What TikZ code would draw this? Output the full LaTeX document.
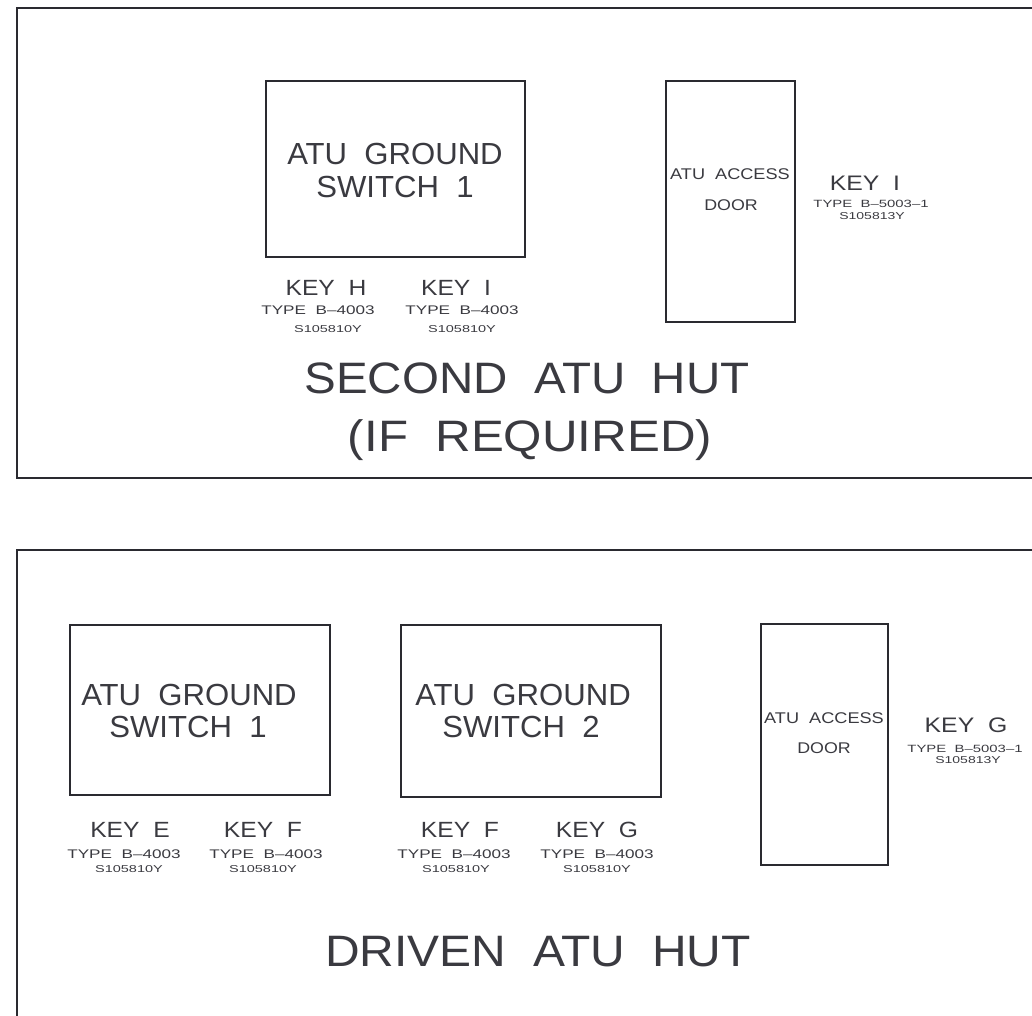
\documentclass[tikz,border=0pt]{standalone}
\usepackage{fontspec}
\setmainfont{Liberation Sans}
\usepackage{graphicx}
\newcommand\hs[2]{\scalebox{#1}[1]{#2}}
\definecolor{ink}{HTML}{2A2A30}
\definecolor{txtc}{HTML}{3A3A40}
\tikzset{
  frame/.style={draw=ink, line width=2pt},
  box/.style={draw=ink, line width=1.4pt, inner sep=0pt, anchor=center},
  txt/.style={text=txtc, inner sep=0pt, anchor=base},
  big/.style={txt, font=\fontsize{44}{50}\selectfont},
  mid/.style={txt, font=\fontsize{30.5}{34}\selectfont},
  keyt/.style={txt, font=\fontsize{22}{24}\selectfont},
  typet/.style={txt, font=\fontsize{12.5}{14}\selectfont},
  sert/.style={txt, font=\fontsize{10}{12}\selectfont},
  doort/.style={txt, font=\fontsize{15.5}{17}\selectfont},
  skeyt/.style={txt, font=\fontsize{21}{23}\selectfont},
  stypet/.style={txt, font=\fontsize{10.5}{12}\selectfont},
}
\begin{document}
\begin{tikzpicture}[x=1pt,y=-1pt]
\useasboundingbox (0,0) rectangle (1032,1015);
% frames
\draw[frame] (1045,7.5) -- (16.5,7.5) -- (16.5,477.5) -- (1045,477.5);
\draw[frame] (1045,550) -- (16.5,550) -- (16.5,1030);

% ---------- Second ATU hut ----------
\node[box, minimum width=259pt, minimum height=176pt] (gsA) at (395.5,169) {};
\node[box, minimum width=129pt, minimum height=241pt] (doorA) at (730.5,201.5) {};

\node[mid] (gsAa) at (395,164) {\hs{1.02}{ATU~~GROUND}};
\node[mid] (gsAb) at (395,197) {\hs{1.02}{SWITCH~~1}};

\node[doort] (doorAa) at (730,179) {\hs{1.17}{ATU~~ACCESS}};
\node[doort] (doorAb) at (731,210) {\hs{1.15}{DOOR}};

\node[keyt] (kHa) at (326,295) {\hs{1.12}{KEY~~H}};
\node[typet] (kHb) at (318,314) {\hs{1.37}{TYPE~~B--4003}};
\node[sert] (kHc) at (328,332) {\hs{1.45}{S105810Y}};

\node[keyt] (kIa) at (456,295) {\hs{1.12}{KEY~~I}};
\node[typet] (kIb) at (462,314) {\hs{1.37}{TYPE~~B--4003}};
\node[sert] (kIc) at (462,332) {\hs{1.45}{S105810Y}};

\node[skeyt] (sIa) at (865,190) {\hs{1.18}{KEY~~I}};
\node[stypet] (sIb) at (871,207) {\hs{1.42}{TYPE~~B--5003--1}};
\node[sert] (sIc) at (872,219) {\hs{1.4}{S105813Y}};

\node[big] (tA1) at (527,393) {\hs{1.08}{SECOND~~ATU~~HUT}};
\node[big] (tA2) at (530,451) {\hs{1.12}{(IF~~REQUIRED)}};

% ---------- Driven ATU hut ----------
\node[box, minimum width=260pt, minimum height=170pt] (gsB1) at (200,710) {};
\node[box, minimum width=260pt, minimum height=172pt] (gsB2) at (531,711) {};
\node[box, minimum width=127pt, minimum height=241pt] (doorB) at (824.5,744.5) {};

\node[mid] (gsB1a) at (189,705) {\hs{1.02}{ATU~~GROUND}};
\node[mid] (gsB1b) at (188,737) {\hs{1.02}{SWITCH~~1}};
\node[mid] (gsB2a) at (523,705) {\hs{1.02}{ATU~~GROUND}};
\node[mid] (gsB2b) at (521,737) {\hs{1.02}{SWITCH~~2}};

\node[doort] (doorBa) at (824,723) {\hs{1.17}{ATU~~ACCESS}};
\node[doort] (doorBb) at (824,753) {\hs{1.15}{DOOR}};

\node[keyt] (kEa) at (130,837) {\hs{1.12}{KEY~~E}};
\node[typet] (kEb) at (124,858) {\hs{1.37}{TYPE~~B--4003}};
\node[sert] (kEc) at (129,872) {\hs{1.45}{S105810Y}};

\node[keyt] (kFa) at (263,837) {\hs{1.12}{KEY~~F}};
\node[typet] (kFb) at (266,858) {\hs{1.37}{TYPE~~B--4003}};
\node[sert] (kFc) at (263,872) {\hs{1.45}{S105810Y}};

\node[keyt] (kF2a) at (460,837) {\hs{1.12}{KEY~~F}};
\node[typet] (kF2b) at (454,858) {\hs{1.37}{TYPE~~B--4003}};
\node[sert] (kF2c) at (456,872) {\hs{1.45}{S105810Y}};

\node[keyt] (kGa) at (597,837) {\hs{1.12}{KEY~~G}};
\node[typet] (kGb) at (597,858) {\hs{1.37}{TYPE~~B--4003}};
\node[sert] (kGc) at (597,872) {\hs{1.45}{S105810Y}};

\node[skeyt] (sGa) at (966,732) {\hs{1.18}{KEY~~G}};
\node[stypet] (sGb) at (965,752) {\hs{1.42}{TYPE~~B--5003--1}};
\node[sert] (sGc) at (968,763) {\hs{1.4}{S105813Y}};

\node[big] (tB) at (538,966) {\hs{1.09}{DRIVEN~~ATU~~HUT}};
\end{tikzpicture}
\end{document}
